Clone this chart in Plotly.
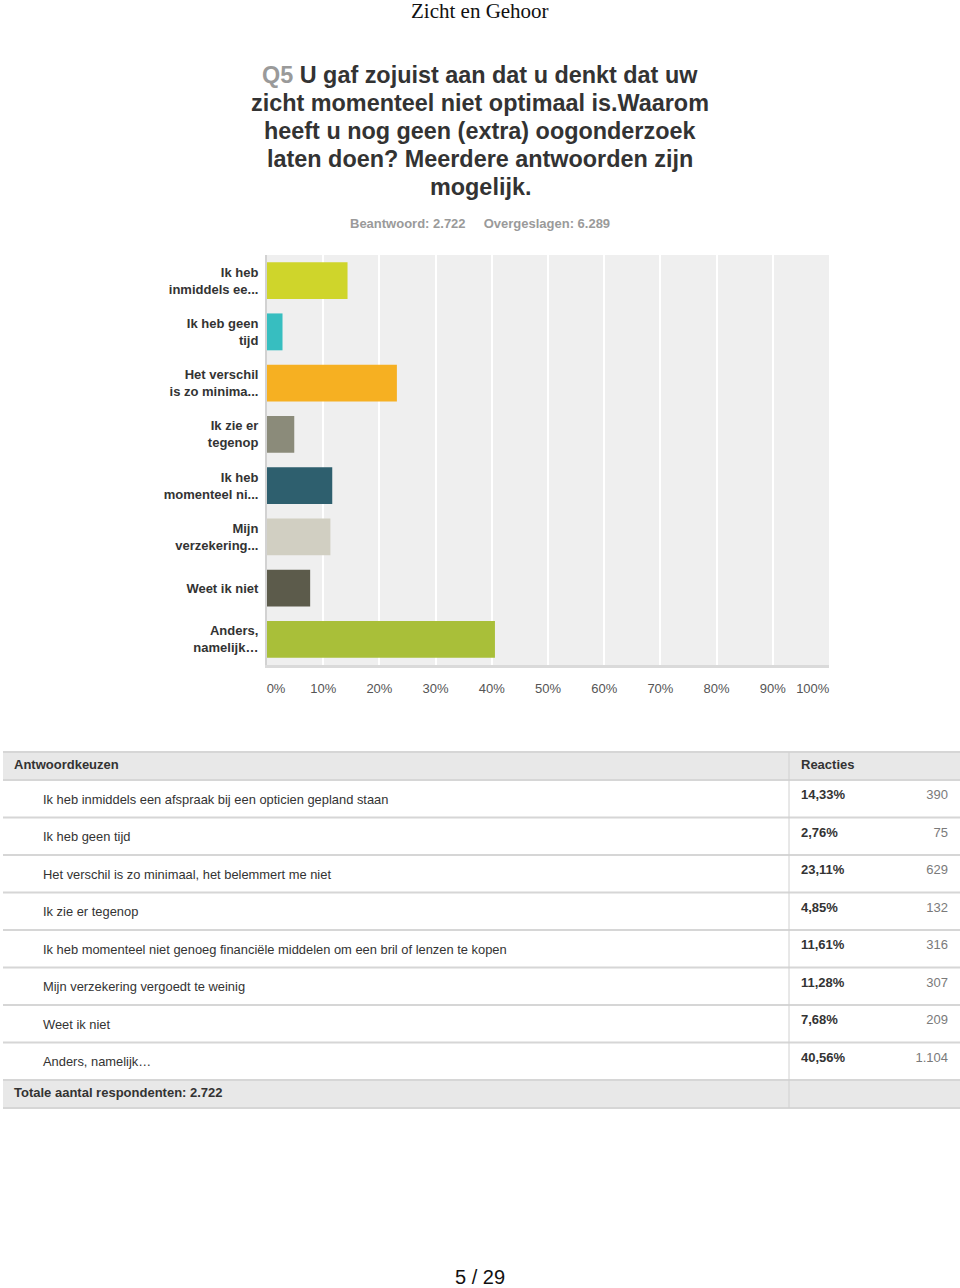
import plotly.graph_objects as go

# survey data
short_labels = ["Ik heb<br>inmiddels ee...", "Ik heb geen<br>tijd", "Het verschil<br>is zo minima...",
                "Ik zie er<br>tegenop", "Ik heb<br>momenteel ni...", "Mijn<br>verzekering...",
                "Weet ik niet", "Anders,<br>namelijk\u2026"]
answers = ["Ik heb inmiddels een afspraak bij een opticien gepland staan",
           "Ik heb geen tijd",
           "Het verschil is zo minimaal, het belemmert me niet",
           "Ik zie er tegenop",
           "Ik heb momenteel niet genoeg financi\u00eble middelen om een bril of lenzen te kopen",
           "Mijn verzekering vergoedt te weinig",
           "Weet ik niet",
           "Anders, namelijk\u2026"]
percentages = [14.33, 2.76, 23.11, 4.85, 11.61, 11.28, 7.68, 40.56]
counts = [390, 75, 629, 132, 316, 307, 209, 1104]
bar_colors = ["#cfd52b", "#37bec0", "#f6b022", "#8b8b7a", "#2e5f6e", "#d1cfc2", "#5c5b4b", "#a9bf39"]
x_ticks = list(range(0, 101, 10))
title_lines = ["<span style='color:#9a9a9a'>Q5</span> U gaf zojuist aan dat u denkt dat uw",
               "zicht momenteel niet optimaal is.Waarom",
               "heeft u nog geen (extra) oogonderzoek",
               "laten doen? Meerdere antwoorden zijn",
               "mogelijk."]

W, H = 960, 1288
FONT = "Liberation Sans, Arial, sans-serif"
DARK = "#333333"
GREY = "#9a9a9a"
NB = "\u00a0"


def py(p):
    # pixel row -> paper y
    return 1 - p / H


# end tick labels sit inside the plot width, like the source
tick_text = [f"{v}%" for v in x_ticks]
tick_text[0] = NB * 5 + tick_text[0]
tick_text[-1] = tick_text[-1] + NB * 9

fig = go.Figure()

fig.add_trace(go.Bar(x=percentages, y=short_labels, orientation="h",
                     marker=dict(color=bar_colors, line=dict(width=0)),
                     hoverinfo="skip", showlegend=False, xaxis="x", yaxis="y"))

# --- table (drawn on a pixel-scaled helper axis) ---
head_top, head_h, row_h = 752, 28, 37.5
row_tops = [head_top + head_h + i * row_h for i in range(len(answers))]
foot_top = row_tops[-1] + row_h
foot_bot = foot_top + head_h
col_split = 789

pct_txt = [f"<b>{p:.2f}%</b>".replace(".", ",") for p in percentages]
cnt_txt = [f"{c:,}".replace(",", ".") for c in counts]
centers = [t + row_h / 2 for t in row_tops]

fig.add_trace(go.Scatter(x=[43] * len(answers), y=[c + 2 for c in centers], text=answers,
                         mode="text", textposition="middle right",
                         textfont=dict(size=12.9, color=DARK, family=FONT),
                         hoverinfo="skip", showlegend=False, xaxis="x2", yaxis="y2"))
fig.add_trace(go.Scatter(x=[801] * len(answers), y=[c - 3 for c in centers], text=pct_txt,
                         mode="text", textposition="middle right",
                         textfont=dict(size=13, color=DARK, family=FONT),
                         hoverinfo="skip", showlegend=False, xaxis="x2", yaxis="y2"))
fig.add_trace(go.Scatter(x=[948] * len(answers), y=[c - 3 for c in centers], text=cnt_txt,
                         mode="text", textposition="middle left",
                         textfont=dict(size=13, color="#7a7a7a", family=FONT),
                         hoverinfo="skip", showlegend=False, xaxis="x2", yaxis="y2"))
fig.add_trace(go.Scatter(x=[14, 801, 14],
                         y=[head_top + head_h / 2, head_top + head_h / 2, foot_top + head_h / 2],
                         text=["<b>Antwoordkeuzen</b>", "<b>Reacties</b>",
                               "<b>Totale aantal respondenten: 2.722</b>"],
                         mode="text", textposition="middle right",
                         textfont=dict(size=13, color=DARK, family=FONT),
                         hoverinfo="skip", showlegend=False, xaxis="x2", yaxis="y2"))

shapes = [dict(type="rect", xref="x domain", yref="y domain", x0=0, x1=1, y0=0, y1=1,
               fillcolor="#efefef", line=dict(width=0), layer="below")]
for top in (head_top, foot_top):
    shapes.append(dict(type="rect", xref="x2", yref="y2", x0=3, x1=W, y0=top, y1=top + head_h,
                       fillcolor="#e8e8e8", line=dict(width=0), layer="below"))
for yb in [head_top, head_top + head_h] + row_tops[1:] + [foot_top, foot_bot]:
    shapes.append(dict(type="line", xref="x2", yref="y2", x0=3, x1=W, y0=yb, y1=yb,
                       line=dict(color="#d6d6d6", width=2)))
shapes.append(dict(type="line", xref="x2", yref="y2", x0=col_split, x1=col_split,
                   y0=head_top, y1=foot_bot, line=dict(color="#d0d0d0", width=1)))

annotations = [
    dict(text="Zicht en Gehoor", x=0.5, y=py(11), xref="paper", yref="paper", showarrow=False,
         yanchor="middle",
         font=dict(family="Liberation Serif, Times New Roman, serif", size=21, color="#111111")),
    dict(text="<b>Beantwoord: 2.722\u00a0\u00a0\u00a0\u00a0\u00a0Overgeslagen: 6.289</b>",
         x=0.5, y=py(223), xref="paper", yref="paper", showarrow=False, yanchor="middle",
         font=dict(family=FONT, size=13, color=GREY)),
    dict(text="5 / 29", x=0.5, y=py(1277), xref="paper", yref="paper", showarrow=False,
         yanchor="middle", font=dict(family=FONT, size=20, color="#111111")),
]
for i, line in enumerate(title_lines):
    annotations.append(dict(text=f"<b>{line}</b>", x=0.5, y=py(75 + 28 * i), xref="paper",
                            yref="paper", showarrow=False, yanchor="middle",
                            font=dict(family=FONT, size=23.4, color=DARK)))

fig.update_layout(
    width=W, height=H, margin=dict(l=0, r=0, t=0, b=0, pad=0, autoexpand=False),
    paper_bgcolor="white", plot_bgcolor="white",
    font=dict(family=FONT, color=DARK),
    bargap=0.28,
    xaxis=dict(domain=[267 / W, 829 / W], range=[0, 100], tickvals=x_ticks,
               ticktext=tick_text, showgrid=True, gridcolor="white", gridwidth=1.5,
               zeroline=False, showline=True, linecolor="#dadada", linewidth=3,
               ticks="outside", ticklen=9, tickcolor="rgba(0,0,0,0)", automargin=False,
               tickfont=dict(size=13, color="#555555"), fixedrange=True),
    yaxis=dict(domain=[py(665), py(255)], autorange="reversed", showgrid=False, zeroline=False,
               showline=True, linecolor="#d2d2d2", linewidth=2, automargin=False,
               ticks="outside", ticklen=4, tickcolor="rgba(0,0,0,0)",
               tickfont=dict(size=13, color=DARK, weight="bold"), fixedrange=True),
    xaxis2=dict(domain=[0, 1], range=[0, W], visible=False, fixedrange=True),
    yaxis2=dict(domain=[py(1110), py(750)], range=[1110, 750], visible=False, fixedrange=True),
    shapes=shapes, annotations=annotations,
)

# the page body has a default 8px margin; drop it so the figure fills the window
fig.write_html("out.html", config={"displayModeBar": False},
               post_script="document.body.style.margin='0';")
